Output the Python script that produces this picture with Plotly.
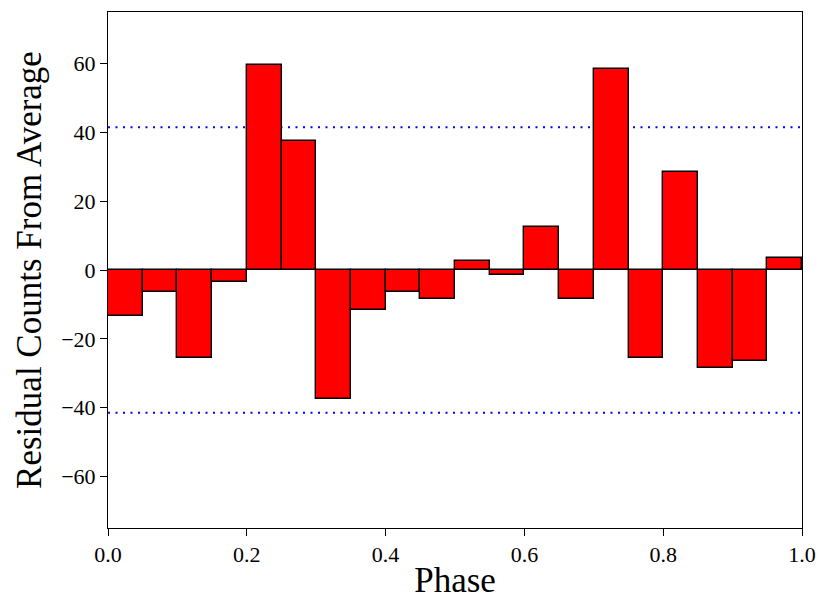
import plotly.graph_objects as go

# Data
bin_left = [0.00, 0.05, 0.10, 0.15, 0.20, 0.25, 0.30, 0.35, 0.40, 0.45,
            0.50, 0.55, 0.60, 0.65, 0.70, 0.75, 0.80, 0.85, 0.90, 0.95]
bin_width = 0.05
residuals = [-13.5, -6.5, -25.5, -3.5, 59.5, 37.5, -37.5, -11.5, -6.5, -8.5,
             2.5, -1.5, 12.5, -8.5, 58.5, -25.5, 28.5, -28.5, -26.5, 3.5]
threshold = 41.5
x_ticks = [0.0, 0.2, 0.4, 0.6, 0.8, 1.0]
y_ticks = [-60, -40, -20, 0, 20, 40, 60]

centers = [b + bin_width / 2 for b in bin_left]

fig = go.Figure()
fig.add_trace(go.Bar(
    x=centers, y=residuals, width=[bin_width] * len(centers), base=0,
    marker=dict(color="#ff0000", line=dict(color="black", width=1.4)),
    showlegend=False, hoverinfo="x+y",
))
# threshold lines drawn beneath the bars
for sgn in (1, -1):
    fig.add_shape(
        type="line", xref="x", yref="y", x0=0, x1=1,
        y0=sgn * threshold, y1=sgn * threshold, layer="below",
        line=dict(color="blue", width=2, dash="2px,5.5px"),
    )

font_family = "Liberation Serif, Times New Roman, serif"
fig.update_layout(
    width=817, height=600,
    margin=dict(l=108, r=15, t=12, b=72, autoexpand=False),
    plot_bgcolor="white", paper_bgcolor="white",
    font=dict(family=font_family, color="black", size=22),
    bargap=0,
)
fig.update_xaxes(
    range=[0, 1], tickvals=x_ticks, ticktext=[f"{v:.1f}" for v in x_ticks],
    ticks="outside", ticklen=7, tickwidth=1, tickcolor="black",
    showline=True, linecolor="black", linewidth=1, mirror=True,
    showgrid=False, zeroline=False, automargin=False,
    title=dict(text="Phase", font=dict(size=35), standoff=6),
    tickfont=dict(size=22),
)
fig.update_yaxes(
    range=[-75, 75], tickvals=y_ticks,
    ticks="outside", ticklen=7, tickwidth=1, tickcolor="black",
    showline=True, linecolor="black", linewidth=1, mirror=True,
    showgrid=False, zeroline=False, automargin=False,
    title=dict(text="Residual Counts From Average", font=dict(size=35), standoff=8),
    tickfont=dict(size=22),
)

fig.write_html("out.html")
